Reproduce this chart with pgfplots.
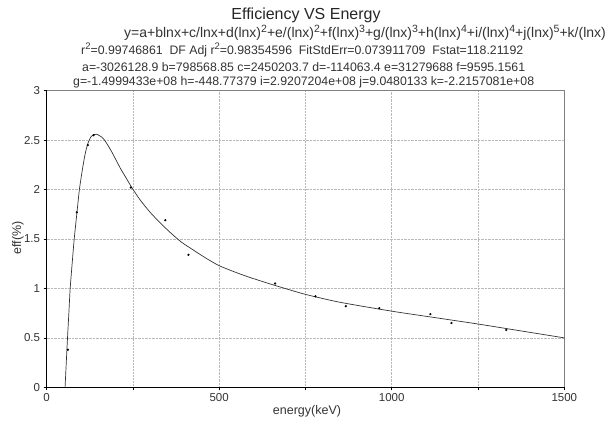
\documentclass[border=0pt]{standalone}
\usepackage{pgfplots}
\pgfplotsset{compat=1.18}
\usepackage{fontspec}
\setmainfont{Liberation Sans}
\pgfplotstableread{
x y
53.5 0
57 0.25
60.6 0.5
64.5 0.75
68.3 1.0
74 1.25
80 1.5
87.7 1.76
95 2.0
100 2.12
105 2.23
110 2.33
115 2.41
121 2.48
128 2.53
136 2.555
145 2.56
160 2.53
170 2.49
189 2.38
213 2.22
230 2.12
247 2.02
270 1.90
300 1.77
330 1.66
360 1.56
390 1.47
420 1.40
460 1.31
500 1.23
550 1.16
590 1.11
662 1.03
750 0.94
850 0.86
1000 0.77
1125 0.705
1250 0.64
1375 0.57
1500 0.50
}\curve
\pgfplotstableread{
x y
61.6 0.38
87.7 1.77
119.5 2.45
136 2.55
244 2.02
344 1.69
411 1.34
662 1.05
779 0.92
867 0.82
964 0.80
1112 0.74
1173 0.65
1332 0.58
}\points
\newcommand{\sq}[1]{\raisebox{0.38em}{\fontsize{9.5}{9}\selectfont #1}}
\newcommand{\sqe}[1]{\raisebox{0.36em}{\fontsize{10.5}{10}\selectfont #1}}
\begin{document}
\begin{tikzpicture}[x=1pt,y=1pt]
\begin{axis}[
  at={(46.6pt,33.7pt)}, anchor=south west,
  scale only axis, width=517.7pt, height=296.6pt,
  xmin=0, xmax=1500, ymin=0, ymax=3,
  xtick={0,500,1000,1500}, minor xtick={250,750,1250},
  xticklabels={0,500,1000,1500},
  ytick={0,0.5,1,1.5,2,2.5,3},
  yticklabels={0,0.5,1,1.5,2,2.5,3},
  grid=both,
  grid style={gray!55, densely dotted, line width=0.5pt},
  minor grid style={gray!55, densely dotted, line width=0.5pt},
  axis lines=left, axis line style={-, black, line width=0.7pt},
  tick align=outside, major tick length=3pt, minor tick length=3pt,
  tick style={black, line width=0.6pt},
  tick label style={font=\fontsize{11.5}{13}\selectfont, text=black!80},
  clip=false,
]
\draw[gray, line width=0.7pt] (rel axis cs:0,1) -- (rel axis cs:1,1) -- (rel axis cs:1,0);
\addplot[black!80, line width=0.7pt, smooth, tension=0.4] table {\curve};
\addplot[only marks, mark=*, mark size=0.9pt, black] table {\points};
\end{axis}
\node[font=\fontsize{16}{18}\selectfont, text=black!85] at (306,406) {Efficiency VS Energy};
\node[anchor=west, font=\fontsize{14}{15}\selectfont, text=black!80, inner sep=0pt] at (124,388) {y=a+blnx+c/lnx+d(lnx)\sqe{2}+e/(lnx)\sqe{2}+f(lnx)\sqe{3}+g/(lnx)\sqe{3}+h(lnx)\sqe{4}+i/(lnx)\sqe{4}+j(lnx)\sqe{5}+k/(lnx)\sqe{5}};
\node[anchor=west, font=\fontsize{12.3}{14}\selectfont, text=black!80, inner sep=0pt] at (81,371) {r\sq{2}=0.99746861\ \ DF Adj r\sq{2}=0.98354596\ \ FitStdErr=0.073911709\ \ Fstat=118.21192};
\node[anchor=west, font=\fontsize{12.3}{14}\selectfont, text=black!80, inner sep=0pt] at (82,354) {a=-3026128.9 b=798568.85 c=2450203.7 d=-114063.4 e=31279688 f=9595.1561};
\node[anchor=west, font=\fontsize{12.3}{14}\selectfont, text=black!80, inner sep=0pt] at (73,339) {g=-1.4999433e+08 h=-448.77379 i=2.9207204e+08 j=9.0480133 k=-2.2157081e+08};
\node[font=\fontsize{12.5}{14}\selectfont, text=black!80] at (307,10) {energy(keV)};
\node[rotate=90, font=\fontsize{12.5}{14}\selectfont, text=black!80] at (18,183) {eff(\%)};
\pgfresetboundingbox
\useasboundingbox (0,0) rectangle (606,421);
\end{tikzpicture}
\end{document}
